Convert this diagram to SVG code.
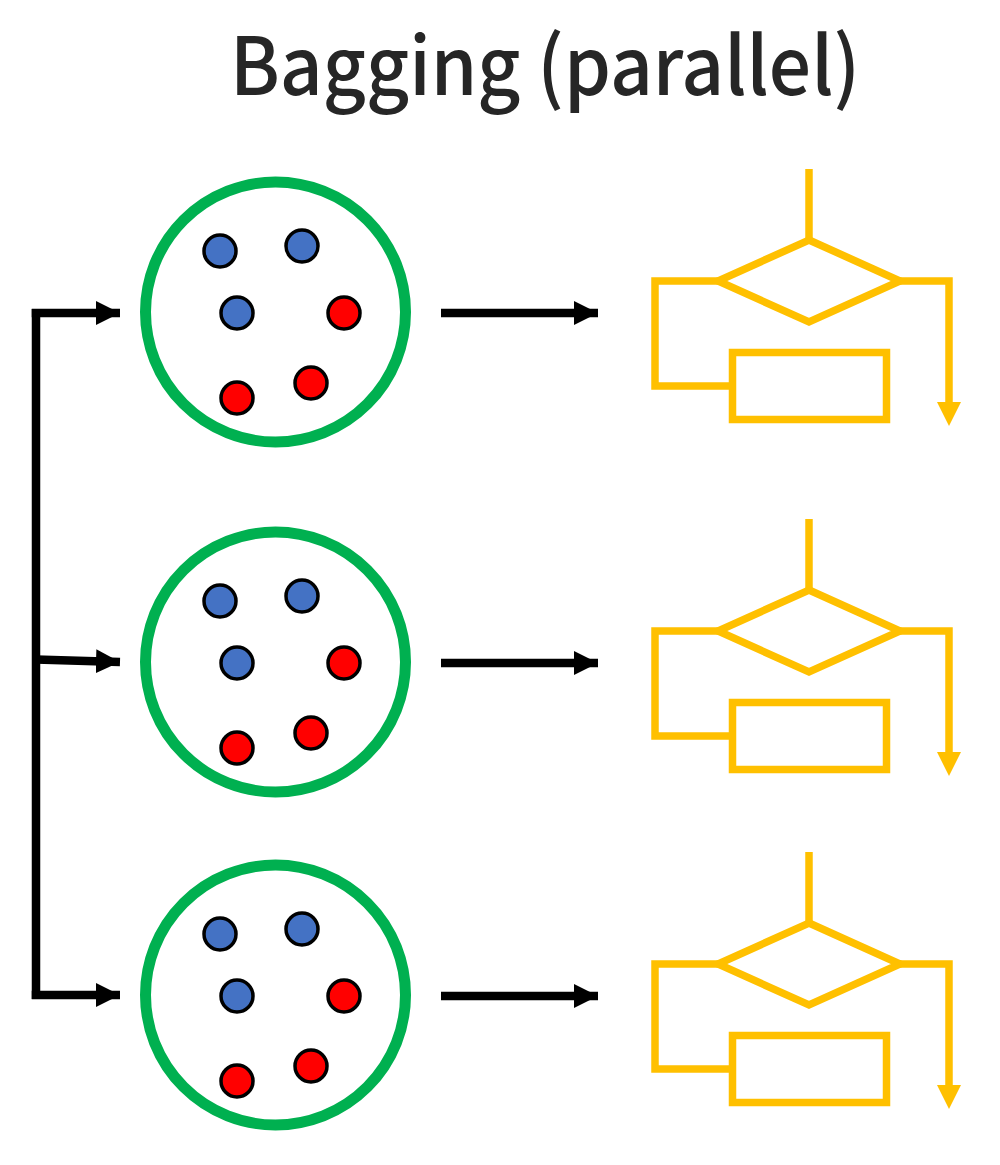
<svg xmlns="http://www.w3.org/2000/svg" width="1000" height="1165" viewBox="0 0 1000 1165">
<style>
.title{font-family:"Noto Sans CJK SC","Noto Sans",sans-serif;font-size:80px;font-weight:500;fill:#262626}
.bag{fill:#fff;stroke:#00B050;stroke-width:11}
.b{fill:#4472C4;stroke:#000;stroke-width:3.5}
.r{fill:#FF0000;stroke:#000;stroke-width:3.5}
.ln{fill:none;stroke:#000;stroke-width:8.5}
.fc{fill:none;stroke:#FFC000;stroke-width:7.5}
</style>
<defs>
<marker id="ah" markerUnits="userSpaceOnUse" markerWidth="24" markerHeight="24" refX="24" refY="12" orient="auto" viewBox="0 0 24 24">
<path d="M0,0 L24,12 L0,24 Z" fill="#000"/>
</marker>
<g id="dots">
<circle class="b" cx="220" cy="251" r="16"/>
<circle class="b" cx="302" cy="246" r="16"/>
<circle class="b" cx="237" cy="313" r="16"/>
<circle class="r" cx="344" cy="313" r="16"/>
<circle class="r" cx="237" cy="398" r="16"/>
<circle class="r" cx="311" cy="383" r="16"/>
</g>
<g id="flow">
<path class="fc" d="M809,169 V240"/>
<path class="fc" d="M809,240 L900,281 L809,322 L718,281 Z"/>
<path class="fc" d="M718,281 H655 V386 H733"/>
<rect class="fc" x="732.5" y="352.5" width="154" height="67"/>
<path class="fc" d="M900,281 H949 V404"/>
<path d="M937,402 L961,402 L949,426 Z" fill="#FFC000"/>
</g>
</defs>
<text class="title" x="230" y="95" textLength="630" lengthAdjust="spacingAndGlyphs">Bagging (parallel)</text>
<g id="connectors">
<path class="ln" d="M36,309 V999"/>
<path class="ln" d="M31.75,313 H120" marker-end="url(#ah)"/>
<path class="ln" d="M36,659.5 L120,662" marker-end="url(#ah)"/>
<path class="ln" d="M31.75,995 H120" marker-end="url(#ah)"/>
<path class="ln" d="M441,313 H598" marker-end="url(#ah)"/>
<path class="ln" d="M441,663 H598" marker-end="url(#ah)"/>
<path class="ln" d="M441,996 H598" marker-end="url(#ah)"/>
</g>
<g id="bag1">
<circle class="bag" cx="275.5" cy="312" r="130"/>
<use href="#dots"/>
</g>
<g id="bag2">
<circle class="bag" cx="275.5" cy="662" r="130"/>
<use href="#dots" y="350"/>
</g>
<g id="bag3">
<circle class="bag" cx="275.5" cy="995" r="130"/>
<use href="#dots" y="683"/>
</g>
<g id="model1"><use href="#flow"/></g>
<g id="model2"><use href="#flow" y="350"/></g>
<g id="model3"><use href="#flow" y="683"/></g>
</svg>
